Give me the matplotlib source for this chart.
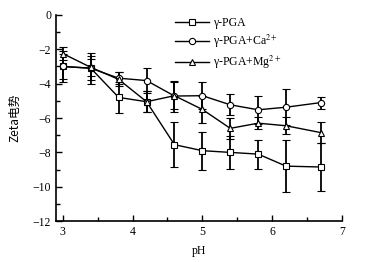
import numpy as np
import matplotlib
matplotlib.use("Agg")
import matplotlib.pyplot as plt
from matplotlib.ticker import MultipleLocator

plt.rcParams['font.family'] = ['Liberation Serif', 'Noto Sans CJK SC']
plt.rcParams['mathtext.fontset'] = 'stix'

ph = [3.0, 3.4, 3.8, 4.2, 4.6, 5.0, 5.4, 5.8, 6.2, 6.7]

pga     = [-3.0, -3.1, -4.8, -5.05, -7.55, -7.9, -8.0, -8.1, -8.8, -8.85]
pga_err = [0.9, 0.9, 0.9, 0.6, 1.3, 1.1, 0.95, 0.85, 1.5, 1.4]

ca     = [-3.0, -3.1, -3.68, -3.82, -4.72, -4.7, -5.23, -5.52, -5.37, -5.1]
ca_err = [0.7, 0.7, 0.35, 0.72, 0.9, 0.8, 0.6, 0.8, 1.05, 0.35]

mg     = [-2.25, -3.05, -3.75, -5.05, -4.7, -5.5, -6.6, -6.3, -6.45, -6.85]
mg_err = [0.4, 0.5, 0.4, 0.6, 0.8, 0.8, 0.6, 0.35, 0.5, 0.6]

yticks = [-12, -10, -8, -6, -4, -2, 0]
labels = ['γ-PGA', 'γ-PGA+Ca$^{2+}$', 'γ-PGA+Mg$^{2+}$']
fs = 8.5

fig = plt.figure(figsize=(3.7, 2.62), dpi=100)
ax = fig.add_axes([0.151, 0.156, 0.773, 0.787])

style = dict(color='black', lw=1.0, markersize=4.5, markerfacecolor='white',
             markeredgecolor='black', markeredgewidth=0.8,
             elinewidth=1.3, capsize=3, capthick=1.3)
ax.errorbar(ph, pga, yerr=pga_err, marker='s', label=labels[0], **style)
ax.errorbar(ph, ca, yerr=ca_err, marker='o', label=labels[1], **style)
ax.errorbar(ph, mg, yerr=mg_err, marker='^', label=labels[2], **style)

ax.set_yticks(yticks)
ax.set_yticklabels([str(v).replace('-', '−') for v in yticks])
ax.set_xlim(2.9, 7.0)
ax.set_ylim(-12, 0)
ax.xaxis.set_major_locator(MultipleLocator(1))
ax.xaxis.set_minor_locator(MultipleLocator(0.5))
ax.yaxis.set_minor_locator(MultipleLocator(1))
ax.tick_params(which='both', direction='in', labelsize=fs, width=1)
ax.tick_params(which='major', length=4)
ax.tick_params(which='minor', length=3)
ax.spines['top'].set_visible(False)
ax.spines['right'].set_visible(False)
ax.spines['left'].set_linewidth(1.2)
ax.spines['bottom'].set_linewidth(1.2)

ax.set_xlabel('pH', fontsize=fs, labelpad=5)
ax.set_ylabel('Zeta电势', fontsize=fs, labelpad=8, family='Noto Sans CJK SC')

handles, labs = ax.get_legend_handles_labels()
hs = [h[0] for h in handles]
fig.legend(hs, labs, loc='upper left', frameon=False, fontsize=fs,
           handlelength=2.9, handletextpad=0.35, labelspacing=0.3,
           borderpad=0, borderaxespad=0,
           bbox_to_anchor=(175 / 370, 1 - 17 / 262))

fig.savefig('out.png', dpi=100)
